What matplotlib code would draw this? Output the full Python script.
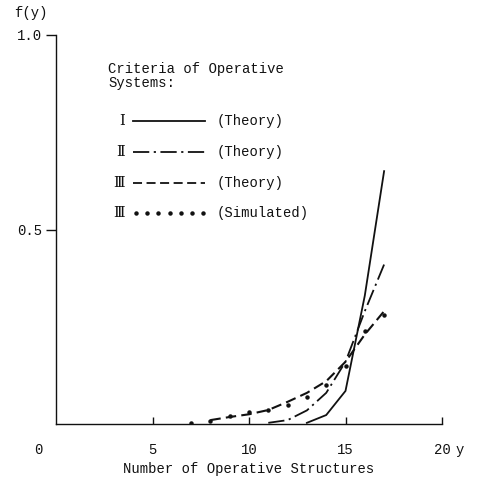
import matplotlib

matplotlib.use("Agg")
import matplotlib.pyplot as plt
from matplotlib.lines import Line2D

# --- data -----------------------------------------------------------------------------
X_I = [13, 14, 15, 16, 17]
Y_I = [0.003, 0.023, 0.085, 0.33, 0.65]

X_II = [11, 12, 13, 14, 15, 16, 17]
Y_II = [0.003, 0.01, 0.035, 0.08, 0.16, 0.29, 0.41]

X_III = [8, 9, 10, 11, 12, 13, 14, 15, 16, 17]
Y_III = [0.01, 0.018, 0.025, 0.036, 0.057, 0.08, 0.11, 0.16, 0.23, 0.29]

X_SIM = [7, 8, 9, 10, 11, 12, 13, 14, 15, 16, 17]
Y_SIM = [0.003, 0.008, 0.02, 0.03, 0.035, 0.05, 0.07, 0.10, 0.15, 0.24, 0.28]

X_TICKS = [5, 10, 15, 20]
Y_TICKS = [0.5, 1.0]
Y_TICKLABELS = ["0.5", "1.0"]

LEG_NUM = ["\u2160", "\u2161", "\u2162", "\u2162"]
LEG_TXT = ["(Theory)", "(Theory)", "(Theory)", "(Simulated)"]

INK = "#111111"
MONO = "Liberation Mono"
W, H = 478, 483

DASH_II = (0, (9, 2.5, 1.2, 2.5))
DASH_III = (0, (5, 2.5))


def fx(px):
    return px / W


def fy(py):
    return 1 - py / H


fig = plt.figure(figsize=(W / 100, H / 100), dpi=100)
fig.patch.set_facecolor("white")
ax = fig.add_axes([fx(56), fy(424), fx(442) - fx(56), fy(35) - fy(424)])

ax.plot(X_I, Y_I, color=INK, lw=1.3, solid_joinstyle="miter")
ax.plot(X_II, Y_II, color=INK, lw=1.3, linestyle=DASH_II)
ax.plot(X_III, Y_III, color=INK, lw=1.5, linestyle=DASH_III)
ax.plot(X_SIM, Y_SIM, linestyle="none", marker="o", ms=2.2, color=INK)

ax.set_xlim(0, 20)
ax.set_ylim(0, 1)
for s in ["top", "right"]:
    ax.spines[s].set_visible(False)
for s in ["left", "bottom"]:
    ax.spines[s].set_linewidth(1.0)
    ax.spines[s].set_color(INK)

ax.set_xticks(X_TICKS)
ax.set_xticklabels([str(t) for t in X_TICKS], family=MONO, fontsize=10)
ax.tick_params(axis="x", direction="in", length=5, width=1.0, pad=14, colors=INK)
ax.set_yticks(Y_TICKS)
ax.set_yticklabels(Y_TICKLABELS, family=MONO, fontsize=10)
ax.tick_params(axis="y", direction="out", length=7, width=1.0, pad=3, colors=INK)

ax.set_xlabel("Number of Operative Structures", family=MONO, fontsize=10,
              color=INK, labelpad=3)

# origin label, axis letters
fig.text(fx(38), fy(450), "0", family=MONO, fontsize=10, color=INK,
         ha="center", va="center")
fig.text(fx(460), fy(450), "y", family=MONO, fontsize=10, color=INK,
         ha="center", va="center")
fig.text(fx(14), fy(13), "f(y)", family=MONO, fontsize=10, color=INK,
         ha="left", va="center")

# legend, drawn by hand
fig.text(fx(108), fy(76), "Criteria of Operative\nSystems:", family=MONO,
         fontsize=10, color=INK, ha="left", va="center", linespacing=0.95)
row_y = [121, 152, 183, 213]
styles = ["-", DASH_II, DASH_III, None]
for yy, num, txt, ls in zip(row_y, LEG_NUM, LEG_TXT, styles):
    fig.text(fx(125), fy(yy), num, family=["DejaVu Serif", "DejaVu Sans"],
             fontsize=10.5, color=INK, ha="right", va="center")
    if ls is None:
        for k in range(7):
            fig.add_artist(Line2D([fx(136 + k * 11.2)], [fy(yy)], marker="o", ms=2.2,
                                  color=INK, linestyle="none"))
    else:
        fig.add_artist(Line2D([fx(133), fx(205)], [fy(yy), fy(yy)], color=INK,
                              lw=1.3, linestyle=ls))
    fig.text(fx(217), fy(yy), txt, family=MONO, fontsize=10, color=INK,
             ha="left", va="center")

fig.savefig("out.png", dpi=100, facecolor="white")
